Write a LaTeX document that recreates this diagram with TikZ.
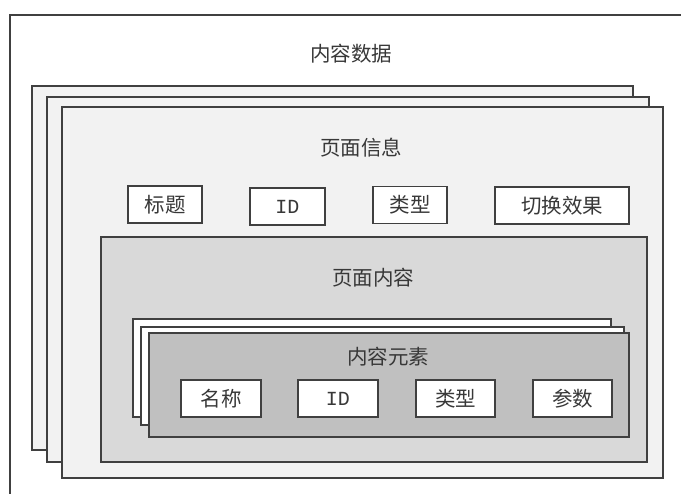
\documentclass[tikz,border=0pt]{standalone}
\usepackage{fontspec}
\setmainfont{Noto Sans CJK SC}
\newfontfamily\idfont{Liberation Mono}
\begin{document}
\begin{tikzpicture}[x=1pt,y=-1pt,
  frame/.style={draw=linegray, line width=1.2pt, rectangle, inner sep=0pt, outer sep=0pt, anchor=north west},
  tag/.style={draw=linegray, line width=1.2pt, fill=white, rectangle, inner sep=0pt, minimum height=37pt, font=\fontsize{20.5}{22}\selectfont, text=textgray},
  title/.style={font=\fontsize{20.5}{22}\selectfont, text=textgray, inner sep=0pt},
  idtxt/.style={font=\idfont\fontsize{20}{22}\selectfont}
]
\definecolor{linegray}{HTML}{404040}
\definecolor{textgray}{HTML}{383838}
\definecolor{pagegray}{HTML}{F2F2F2}
\definecolor{midgray}{HTML}{D9D9D9}
\definecolor{darkgray2}{HTML}{C0C0C0}
\useasboundingbox (0,0) rectangle (681,494);
\fill[white] (0,0) rectangle (681,494);
% outer frame (extends beyond picture)
\draw[linegray, line width=1.2pt] (10,494) -- (10,15) -- (681,15);
\node[title] (data) at (351,54) {内容数据};
% page stack
\node[frame, fill=pagegray, minimum width=601pt, minimum height=364pt] (page1) at (32,86) {};
\node[frame, fill=pagegray, minimum width=602pt, minimum height=365pt] (page2) at (47,97) {};
\node[frame, fill=pagegray, minimum width=601pt, minimum height=371pt] (page3) at (62,107) {};
\node[title] (pageinfo) at (361,148) {页面信息};
\node[tag, minimum width=74pt] (t1) at (165,204.5) {标题};
\node[tag, minimum width=75pt] (t2) at (287.5,206.5) {\idfont\fontsize{20}{22}\selectfont ID};
\node[tag, minimum width=74pt] (t3) at (410,205) {类型};
\node[tag, minimum width=134pt] (t4) at (562,205.5) {切换效果};
% page content
\node[frame, fill=midgray, minimum width=546pt, minimum height=225pt] (content) at (101,237) {};
\node[title] (contenttitle) at (373,278) {页面内容};
% element stack
\node[frame, fill=white, minimum width=478pt, minimum height=98pt] (el1) at (133,319) {};
\node[frame, fill=white, minimum width=483pt, minimum height=98pt] (el2) at (141,327) {};
\node[frame, fill=darkgray2, minimum width=480pt, minimum height=104pt] (el3) at (149,333) {};
\node[title] (eltitle) at (388,357) {内容元素};
\node[tag, minimum width=80pt] (e1) at (221,398.5) {名称};
\node[tag, minimum width=80pt] (e2) at (338,398.5) {\idfont\fontsize{20}{22}\selectfont ID};
\node[tag, minimum width=79pt] (e3) at (455.5,398.5) {类型};
\node[tag, minimum width=79pt] (e4) at (572.5,398.5) {参数};
\end{tikzpicture}
\end{document}
